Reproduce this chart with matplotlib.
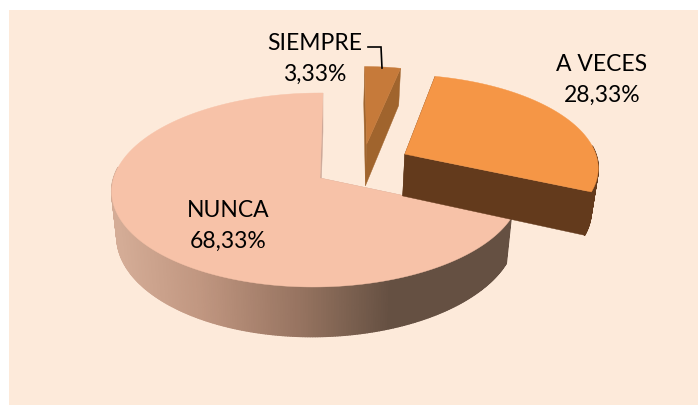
import numpy as np
import matplotlib
matplotlib.use("Agg")
import matplotlib.pyplot as plt
from matplotlib.collections import PolyCollection
from matplotlib.colors import to_rgb
from matplotlib.patches import Polygon, Rectangle

# Data
categories = ["SIEMPRE", "A VECES", "NUNCA"]
values = [3.33, 28.33, 68.33]

# Style
top_colors = ["#C67A3A", "#F59646", "#F7C2A8"]
cut_colors = ["#A0642D", "#633A1C", "#CDA898"]
explode = [(0.235, 0.37), (0.43, 0.26), (0.0, 0.0)]
label_pos = [(315, 59), (602, 80), (228, 226)]
panel_color = "#FDEADA"

# Projection of the pie plane into the picture
CX, CY, RX, RY = 320.0, 178.0, 203.0, 95.5
KV, KU, SHEAR = 0.1236, 0.016, 3.0
DEPTH, BOTTOM_SCALE = 43.5, 0.975


def project(u, v, bottom=False):
    w = 1 + KV * v + KU * u
    x = RX * u / w
    y = CY - RY * v / w
    if bottom:
        return CX + BOTTOM_SCALE * x + SHEAR * v, y + DEPTH / w
    return CX + x + SHEAR * v, y


def wall_color(x):
    xs = [118, 200, 300, 390, 520]
    cs = np.array([(212, 172, 150), (192, 150, 128), (150, 115, 96),
                   (101, 80, 66), (101, 80, 66)]) / 255
    return tuple(np.interp(x, xs, cs[:, i]) for i in range(3))


fig = plt.figure(figsize=(6.98, 4.05), dpi=100, facecolor="white")
ax = fig.add_axes([0, 0, 1, 1])
ax.set_xlim(0, 698)
ax.set_ylim(405, 0)
ax.axis("off")
ax.add_patch(Rectangle((9, 10), 689, 395, fc=panel_color, ec="none", zorder=0))

fractions = np.array(values) / np.sum(values)
edges = np.concatenate([[0], np.cumsum(fractions)]) * 2 * np.pi

for i in [2, 1, 0]:
    a0, a1 = edges[i], edges[i + 1]
    t = np.linspace(a0, a1, max(int((a1 - a0) * 90), 4))
    u0, v0 = explode[i]
    us = u0 + np.sin(t)
    vs = v0 + np.cos(t)
    base = 1 + (2 - i) * 3

    xt, yt = project(us, vs)
    xb, yb = project(us, vs, bottom=True)
    ax_x, ax_y = project(u0, v0)
    ab_x, ab_y = project(u0, v0, bottom=True)

    # cut walls, under the outer wall
    for k in (0, -1):
        ax.add_patch(Polygon([(ax_x, ax_y), (xt[k], yt[k]), (xb[k], yb[k]), (ab_x, ab_y)],
                             fc=cut_colors[i], ec=cut_colors[i], lw=0.3, zorder=base))

    # outer wall, front half only
    quads, cols = [], []
    for j in range(len(t) - 1):
        if np.cos(t[j]) > 0.1:
            continue
        quads.append([(xt[j], yt[j]), (xt[j + 1], yt[j + 1]),
                      (xb[j + 1], yb[j + 1]), (xb[j], yb[j])])
        xm = (xt[j] + xt[j + 1]) / 2
        cols.append(wall_color(xm) if i == 2 else to_rgb(cut_colors[i]))
    if quads:
        ax.add_collection(PolyCollection(quads, facecolors=cols, edgecolors=cols,
                                         linewidths=1.0, zorder=base + 1))

    # top face
    ax.add_patch(Polygon(np.column_stack([np.r_[ax_x, xt], np.r_[ax_y, yt]]),
                         fc=top_colors[i], ec=top_colors[i], lw=0.3, zorder=base + 2))

for name, val, (x, y) in zip(categories, values, label_pos):
    ax.text(x, y, f"{name}\n{val:.2f}".replace(".", ",") + "%", ha="center", va="center",
            fontsize=16.5, family="Lato", color="black", linespacing=1.62, zorder=20)

ax.plot([368, 381, 382], [47, 47, 68], color="black", lw=1.2, zorder=20,
        solid_joinstyle="miter")

fig.savefig("out.png", dpi=100, facecolor="white")
